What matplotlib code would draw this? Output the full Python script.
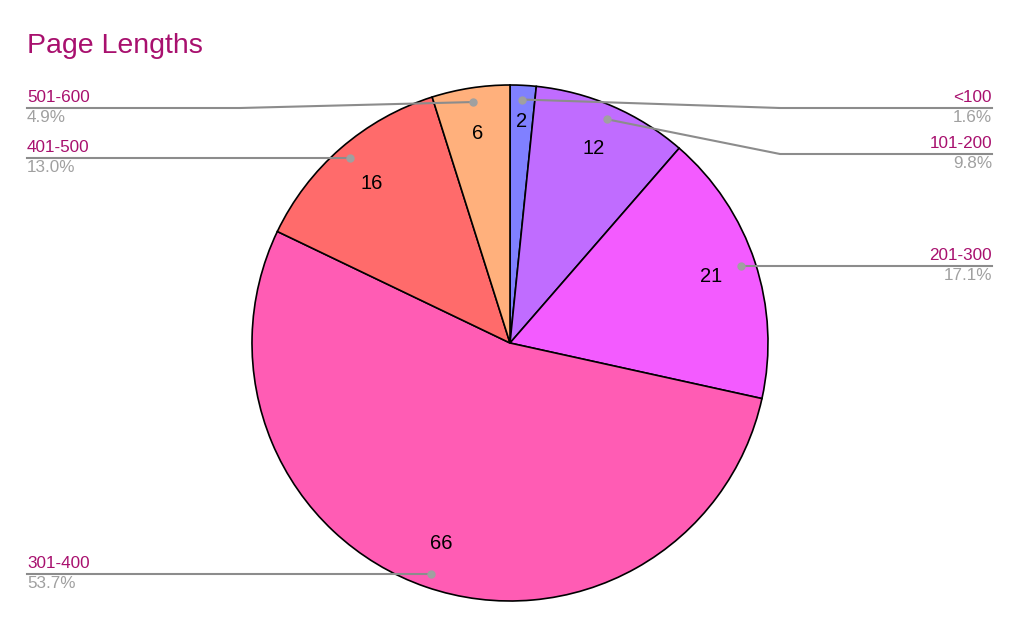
import numpy as np
import matplotlib.pyplot as plt

# Data
categories = ["<100", "101-200", "201-300", "301-400", "401-500", "501-600"]
counts = [2, 12, 21, 66, 16, 6]
colors = ["#8080ff", "#c06cff", "#f35bff", "#ff5cb4", "#ff6b6b", "#ffb07c"]

W, H = 1024, 630
cx, cy, R = 510, H - 343, 258

fig = plt.figure(figsize=(W / 100, H / 100), dpi=100)
ax = fig.add_axes([0, 0, 1, 1])

total = sum(counts)
wedges, texts, autotexts = ax.pie(
    counts, colors=colors, startangle=90, counterclock=False,
    center=(cx, cy), radius=R, frame=True,
    autopct=lambda p: "%d" % round(p * total / 100.0),
    pctdistance=0.82,
    wedgeprops=dict(edgecolor="black", linewidth=1.2),
    textprops=dict(fontsize=14.5, color="black", family="Liberation Sans"),
)
ax.set_xlim(0, W)
ax.set_ylim(0, H)
ax.set_aspect("equal")
ax.axis("off")

# nudge the small slice label a bit outwards like the original
autotexts[0].set_position((cx + 0.86 * R * np.cos(np.deg2rad(87)),
                           cy + 0.86 * R * np.sin(np.deg2rad(87))))

# label placement: (side, y in px of the leader line, elbow x)
layout = {
    "<100": ("right", 108, 780),
    "101-200": ("right", 154, 780),
    "201-300": ("right", 266, None),
    "301-400": ("left", 574, None),
    "401-500": ("left", 158, None),
    "501-600": ("left", 108, 240),
}

lab_col = "#a8106e"
pct_col = "#a0a0a0"
line_col = "#8c8c8c"

for w, cat, n in zip(wedges, categories, counts):
    ang = np.deg2rad((w.theta1 + w.theta2) / 2)
    dx, dy = cx + 0.945 * R * np.cos(ang), cy + 0.945 * R * np.sin(ang)
    side, ly, ex = layout[cat]
    ly = H - ly
    xe = 992 if side == "right" else 27
    xs = [dx]
    ys = [dy]
    if ex is not None:
        xs.append(ex)
        ys.append(ly)
    else:
        ys[0] = ly
    xs.append(xe)
    ys.append(ly)
    ax.plot(xs, ys, color=line_col, lw=1.5, zorder=3)
    ax.plot(xs[0], ys[0], "o", color="#a0a0a0", ms=5, zorder=4)
    ha = "right" if side == "right" else "left"
    ax.text(xe, ly + 3, cat, ha=ha, va="bottom", color=lab_col, fontsize=12.3,
            family="Liberation Sans")
    ax.text(xe, ly - 2, "%.1f%%" % (100.0 * n / total), ha=ha, va="top",
            color=pct_col, fontsize=12.3, family="Liberation Sans")

fig.text(27 / W, 1 - 46 / H, "Page Lengths", color=lab_col, fontsize=20.5,
         va="center", ha="left", family="Liberation Sans")

fig.savefig("out.png", dpi=100, facecolor="white")
